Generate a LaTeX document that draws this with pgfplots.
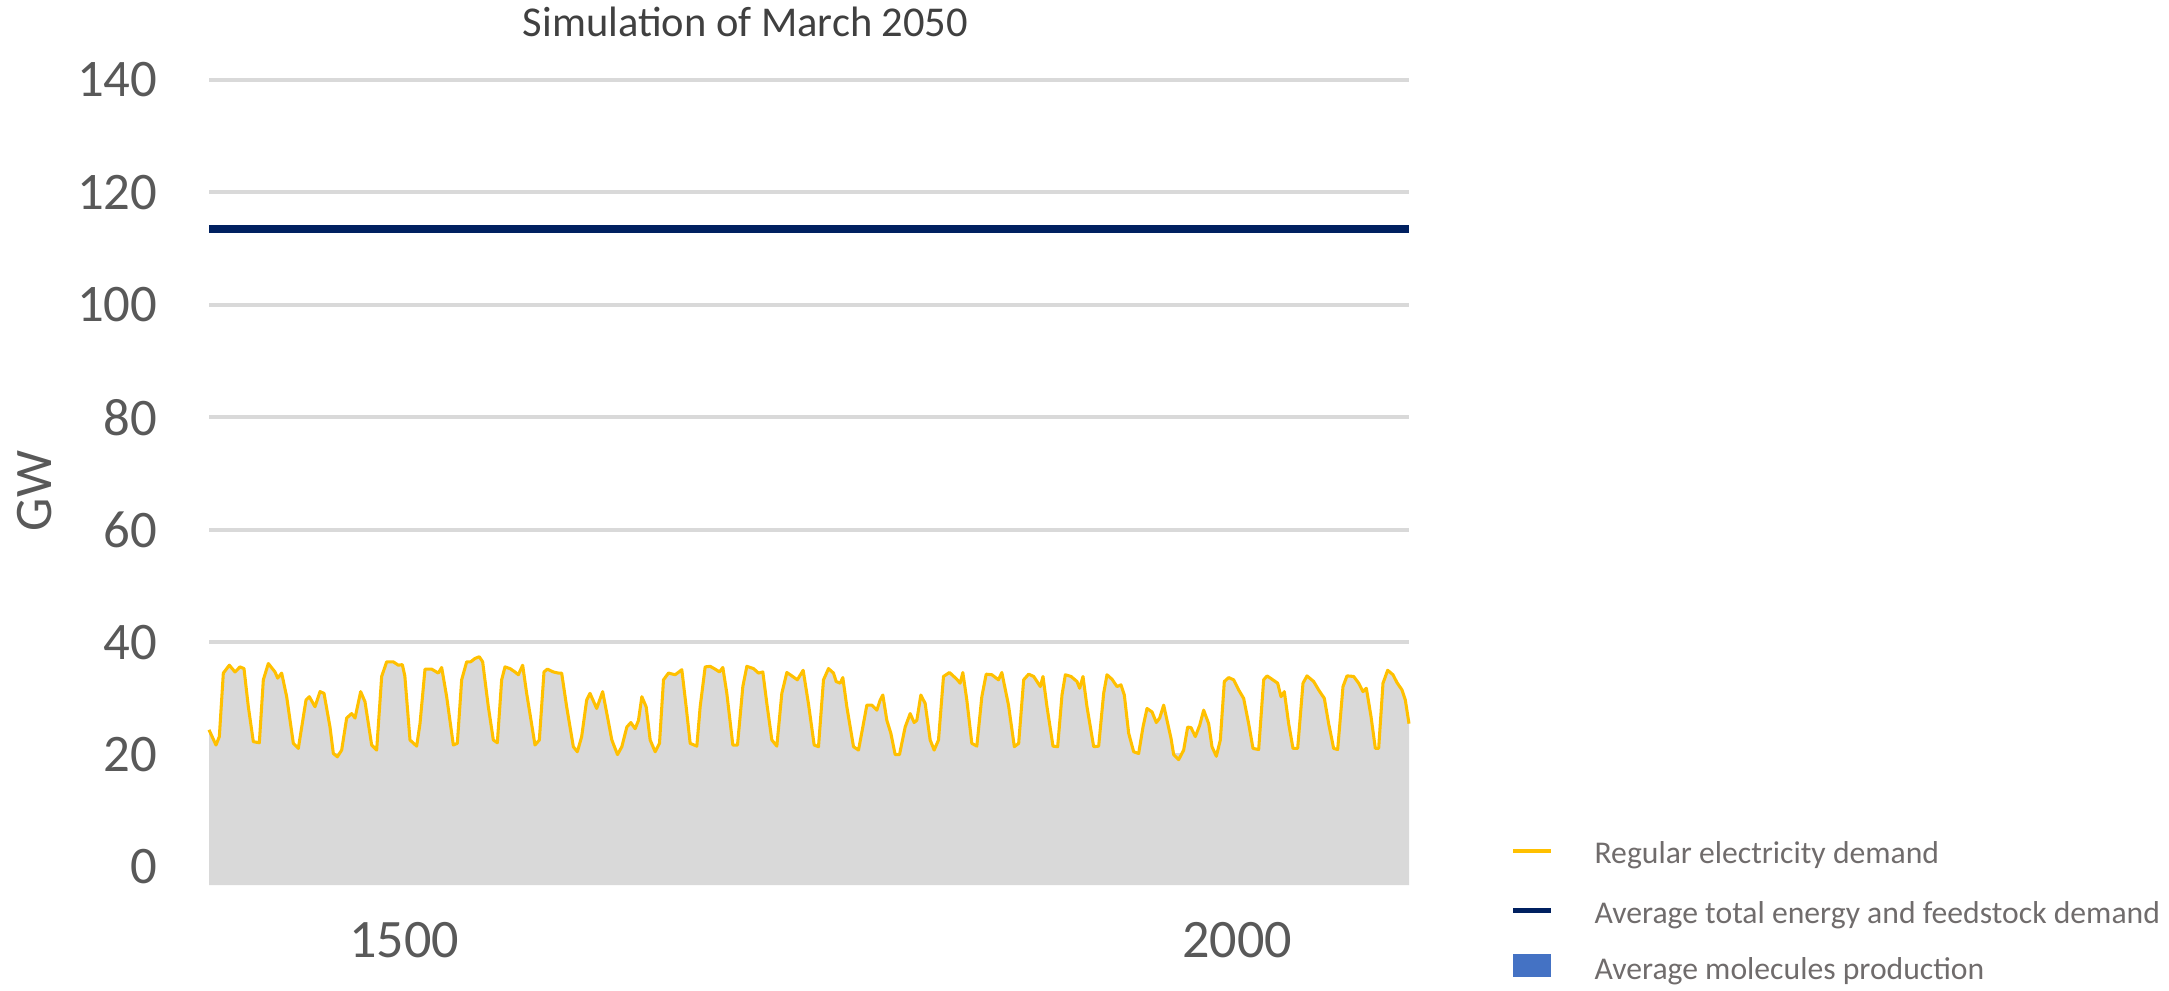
\documentclass[border=0pt]{standalone}
\usepackage{pgfplots}
\pgfplotsset{compat=1.18}
\usepackage{pgfplotstable}
\usepgfplotslibrary{fillbetween}
\usepackage{fontspec}
\setmainfont{Carlito}

\definecolor{demandline}{HTML}{FFC000}
\definecolor{totalline}{HTML}{002060}
\definecolor{areafill}{HTML}{D9D9D9}
\definecolor{gridcol}{HTML}{D9D9D9}
\definecolor{molecules}{HTML}{4472C4}
\definecolor{ticktext}{HTML}{595959}
\definecolor{titletext}{HTML}{404040}
\definecolor{legendtext}{HTML}{706C6C}

% Hourly regular electricity demand, March 2050 (GW)
\pgfplotstableread{
h v
1383 24.4
1387.2 21.7
1389.2 23.2
1391.6 34.5
1395.2 35.9
1398.6 34.7
1401.6 35.6
1404 35.3
1406.6 28.5
1409.6 22.3
1413.2 22.1
1415.6 33.3
1418.6 36.2
1422.6 34.7
1424.2 33.6
1426.6 34.5
1429.6 30.3
1433.6 22.0
1436.6 21.1
1441.2 29.7
1443.2 30.3
1446.6 28.5
1449.6 31.2
1452 30.9
1455.6 24.9
1457.6 20.2
1460 19.6
1462.6 20.8
1465.6 26.5
1468.6 27.3
1470.6 26.5
1474 31.2
1476.6 29.4
1480.6 21.7
1483.6 20.8
1486.6 33.9
1489.6 36.5
1493.6 36.5
1496.6 35.9
1499 36.0
1500.5 34.0
1503.6 22.6
1507.6 21.5
1509.6 25.5
1512.6 35.2
1516.6 35.2
1520.6 34.5
1522.6 35.5
1525.6 30.3
1529.6 21.7
1532 22.0
1534.6 33.3
1537.6 36.5
1540 36.5
1542.6 37.1
1545.2 37.4
1547.2 36.5
1550.6 28.5
1553.6 22.6
1556 22.1
1558.6 33.3
1560.6 35.6
1563.6 35.3
1566.6 34.7
1568.6 34.2
1571.2 35.9
1573.6 30.9
1578.6 21.7
1581.2 22.6
1584 34.7
1586 35.2
1589.6 34.7
1592.6 34.5
1594.6 34.5
1597.6 28.5
1601.6 21.4
1604 20.5
1606.6 23.2
1609.6 29.7
1611.6 30.9
1615.6 28.2
1619.2 31.2
1621.7 27.3
1624.7 22.6
1628.1 20.0
1630.7 21.4
1633.7 24.9
1636.1 25.7
1638.7 24.6
1640.7 26.1
1642.7 30.3
1645.3 28.5
1647.7 22.6
1650.7 20.5
1653.3 22.0
1655.7 33.3
1658.7 34.5
1662.7 34.2
1666.7 35.1
1669.3 28.5
1671.7 22.0
1675.7 21.5
1677.7 28.5
1680.7 35.6
1683.7 35.7
1686.7 35.2
1689.3 34.7
1691.3 35.5
1693.7 30.9
1697.3 21.7
1700.1 21.7
1703.3 32.1
1705.7 35.7
1709.7 35.3
1712.7 34.5
1715.3 34.7
1717.7 29.1
1720.7 22.6
1723.7 21.5
1726.7 30.9
1729.7 34.6
1732.7 34.0
1736 33.3
1739.5 35.0
1742.7 29.0
1746.1 21.7
1748.7 21.4
1751.7 33.3
1754.7 35.3
1757.7 34.5
1759.3 33.0
1761.7 32.7
1763.3 33.7
1765.7 28.5
1769.7 21.4
1772.7 20.8
1775.3 24.9
1777.7 28.8
1780.7 28.8
1783.7 27.9
1785.7 29.7
1787.3 30.6
1789.7 26.1
1792.1 23.8
1794.7 20.0
1797.3 20.0
1800.7 24.9
1803.7 27.3
1806.1 25.7
1807.7 26.1
1810.1 30.6
1812.7 29.1
1815.7 22.6
1818.1 20.8
1820.7 22.6
1823.7 33.9
1827.3 34.6
1831.7 33.4
1833.7 32.7
1835.3 34.6
1837.7 29.7
1840.7 22.0
1843.7 21.5
1846.7 30.3
1849.3 34.3
1852.7 34.2
1856.7 33.3
1858.7 34.6
1862.7 28.8
1866.2 21.4
1868.8 22.0
1871.8 33.3
1874.8 34.3
1877.8 33.9
1879.8 33.0
1881.8 32.1
1883.4 33.9
1885.8 28.5
1889.4 21.5
1892.2 21.4
1894.8 30.6
1896.8 34.2
1900.2 33.9
1903.8 33.0
1905.4 31.8
1907.4 33.9
1909.8 28.5
1913.8 21.4
1916.8 21.5
1919.8 30.9
1921.8 34.2
1924.8 33.4
1927.8 32.1
1930.2 32.4
1932.2 30.6
1934.8 23.8
1937.8 20.5
1940.8 20.2
1943.4 24.9
1945.8 28.2
1948.8 27.6
1951.4 25.7
1953.4 26.5
1955.8 28.8
1957.8 26.1
1960.2 22.9
1961.8 20.0
1964.8 19.1
1967.8 20.8
1970.2 24.9
1972.2 24.8
1974.8 23.2
1977.4 25.2
1979.8 27.9
1982.8 25.5
1984.8 21.4
1987.4 19.7
1989.8 22.6
1992.2 33.0
1994.8 33.7
1997.8 33.3
2000.8 31.5
2003.8 30.0
2006.8 25.5
2009.4 21.1
2012.8 20.9
2015.8 33.3
2017.8 34.0
2020.8 33.4
2024.2 32.7
2026.2 30.3
2028.2 31.2
2030.8 25.5
2033.4 21.1
2036.2 21.1
2039.4 32.7
2041.8 34.0
2045.8 33.0
2048.8 31.5
2052.2 30.0
2054.8 25.5
2057.8 21.1
2060.2 20.9
2063.4 32.1
2065.8 34.0
2069.8 33.9
2072.8 32.7
2075.4 31.2
2077.4 31.8
2080.2 26.8
2082.8 21.1
2084.8 21.1
2087.4 32.7
2090.2 35.0
2093.4 34.2
2095.8 32.8
2098.8 31.5
2100.8 29.7
2103 25.5
}\demandtable

% Average total energy and feedstock demand (GW)
\pgfplotstableread{
h v
1383 113.5
2103 113.5
}\totaltable

\begin{document}
\begin{tikzpicture}
\begin{axis}[
  at={(75.24pt,37.8pt)}, anchor=south west,
  scale only axis, width=432pt, height=289.8pt,
  xmin=1383, xmax=2103, ymin=-3.2, ymax=140,
  axis line style={draw=none},
  major tick length=0pt,
  xtick={1500,2000}, xticklabels={1500,2000},
  ytick={0,20,40,60,80,100,120,140},
  yticklabels={0,20,40,60,80,100,120,140},
  ymajorgrids,
  grid style={gridcol, line width=1.44pt},
  xticklabel style={anchor=center, inner sep=0pt, yshift=-19.8pt,
    font=\fontsize{19.5}{22}\selectfont, text=ticktext},
  yticklabel style={anchor=east, inner sep=0pt, xshift=-18.4pt,
    font=\fontsize{19}{22}\selectfont, text=ticktext},
  clip=false,
]
  \addplot[name path=dem, draw=none, forget plot] table[x=h, y=v] {\demandtable};
  \addplot[name path=base, draw=none, forget plot] coordinates {(1383,-3.2) (2103,-3.2)};
  \addplot[areafill, draw=none] fill between[of=dem and base];
  \addplot[demandline, line width=1.1pt, line join=round] table[x=h, y=v] {\demandtable};
  \addplot[totalline, line width=2.9pt] table[x=h, y=v] {\totaltable};
\end{axis}

% title and axis title
\node[anchor=base, font=\fontsize{15.3}{18}\selectfont, text=titletext]
  at (268.4pt,343.08pt) {Simulation of March 2050};
\node[rotate=90, anchor=center, font=\fontsize{19}{22}\selectfont, text=ticktext]
  at (12.6pt,179.64pt) {GW};

% legend
\draw[demandline, line width=1.44pt] (544.68pt,50.0pt) -- (558.36pt,50.0pt);
\draw[totalline, line width=1.8pt] (544.68pt,28.8pt) -- (558.36pt,28.8pt);
\fill[molecules] (544.68pt,4.68pt) rectangle (558.36pt,12.96pt);
\begin{scope}[every node/.style={anchor=base west, inner sep=0pt,
    font=\fontsize{11.4}{14}\selectfont, text=legendtext}]
  \node at (573.84pt,45.7pt) {Regular electricity demand};
  \node at (573.84pt,23.9pt) {Average total energy and feedstock demand};
  \node at (573.84pt,3.9pt) {Average molecules production};
\end{scope}

% fixed canvas
\pgfresetboundingbox
\useasboundingbox (0pt,0pt) rectangle (780.84pt,356.4pt);
\end{tikzpicture}
\end{document}
